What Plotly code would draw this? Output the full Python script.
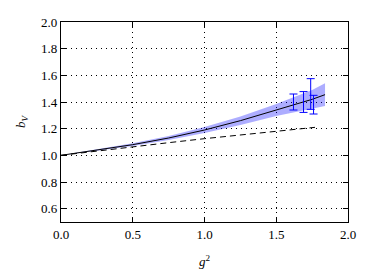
import plotly.graph_objects as go

# Fit curve (central value and band)
g2_curve = [0.0, 0.25, 0.5, 0.75, 1.0, 1.25, 1.5, 1.75, 1.84]
bv_central = [1.0, 1.04, 1.08, 1.13, 1.19, 1.26, 1.34, 1.42, 1.455]
bv_upper = [1.0, 1.045, 1.09, 1.145, 1.212, 1.292, 1.385, 1.49, 1.54]
bv_lower = [1.0, 1.035, 1.07, 1.115, 1.168, 1.228, 1.295, 1.35, 1.37]

# Perturbative (dashed) curve
g2_pert = [0.0, 0.25, 0.5, 0.75, 1.0, 1.25, 1.5, 1.77]
bv_pert = [1.0, 1.033, 1.065, 1.095, 1.125, 1.153, 1.18, 1.21]

# Data points
g2_data = [1.62, 1.69, 1.74, 1.76]
bv_data = [1.40, 1.40, 1.46, 1.38]
bv_err = [0.06, 0.078, 0.115, 0.07]

x_ticks = [0.0, 0.5, 1.0, 1.5, 2.0]
y_ticks = [0.6, 0.8, 1.0, 1.2, 1.4, 1.6, 1.8, 2.0]

fig = go.Figure()
fig.add_trace(go.Scatter(x=g2_curve + g2_curve[::-1], y=bv_upper + bv_lower[::-1],
                         fill="toself", fillcolor="rgba(0,0,255,0.32)",
                         line=dict(width=0), mode="lines", hoverinfo="skip"))
fig.add_trace(go.Scatter(x=g2_curve, y=bv_central, mode="lines",
                         line=dict(color="black", width=1)))
fig.add_trace(go.Scatter(x=g2_pert, y=bv_pert, mode="lines",
                         line=dict(color="black", width=1, dash="6px,4px")))
fig.add_trace(go.Scatter(x=g2_data, y=bv_data, mode="markers",
                         marker=dict(size=1, color="blue"),
                         error_y=dict(type="data", array=bv_err, color="blue",
                                      thickness=1, width=4)))

font = dict(family="Liberation Serif, Times New Roman, serif", size=13, color="black")
axis_common = dict(showline=True, linecolor="black", linewidth=1.2, mirror="ticks",
                   ticks="inside", ticklen=5, tickcolor="black", automargin=False,
                   showgrid=True, gridcolor="black", gridwidth=1, griddash="1px,4px",
                   zeroline=False, tickfont=font)
fig.update_layout(
    width=366, height=272, showlegend=False,
    margin=dict(l=53, r=26, t=14, b=58),
    paper_bgcolor="white", plot_bgcolor="white", font=font,
    xaxis=dict(range=[0, 2], tickvals=x_ticks, ticktext=[f"{v:.1f}" for v in x_ticks],
               title=dict(text="<i>g</i><sup>2</sup>", font=font, standoff=16), **axis_common),
    yaxis=dict(range=[0.5, 2.0], tickvals=y_ticks, ticktext=[f"{v:.1f}" for v in y_ticks],
               title=dict(text="<i>b</i><sub><i>V</i></sub>", font=font, standoff=12), **axis_common),
)
fig.write_html("out.html")
